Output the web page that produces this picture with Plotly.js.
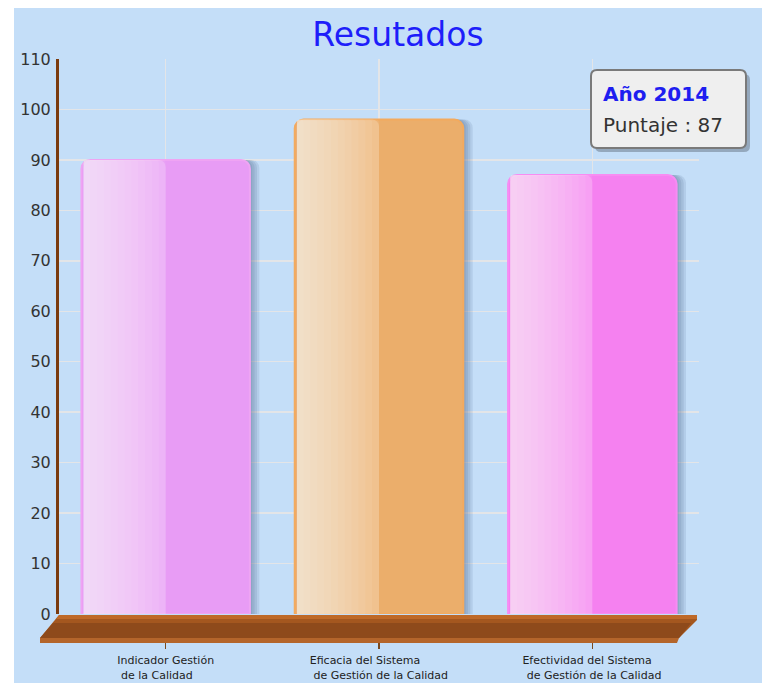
<!DOCTYPE html>
<html>
<head>
<meta charset="utf-8">
<script src="https://cdn.plot.ly/plotly-3.0.1.min.js"></script>
<style>
  html, body { margin: 0; padding: 0; background: #ffffff; }
  #chart { position: absolute; left: 14px; top: 8px; width: 748px; height: 675px; }
</style>
</head>
<body>
<div id="chart"></div>
<script>
// ---- data ----
const categories = ['Indicador Gestión de la Calidad',
                    'Eficacia del Sistema de Gestión de la Calidad',
                    'Efectividad del Sistema de Gestión de la Calidad'];
const labelLine1 = ['Indicador Gestión', 'Eficacia del Sistema', 'Efectividad del Sistema'];
const labelLine2 = ['de la Calidad', 'de Gestión de la Calidad', 'de Gestión de la Calidad'];
const values = [90, 98, 87];
const yTicks = [0, 10, 20, 30, 40, 50, 60, 70, 80, 90, 100, 110];
const chartTitle = 'Resutados';
const tipTitle = 'Año 2014';
const tipLabel = 'Puntaje';
const tipIndex = 2;

// ---- styles ----
const barColors = ['#E89CF5', '#EBAE6B', '#F581F0'];
const barBorders = ['#EFA4F3', '#F3AA5E', '#F78CF2'];
const BW = 0.79;
const FONT = '"DejaVu Sans", Verdana, sans-serif';

// tick labels: left-aligned two-line blocks (pad shorter line with nbsp)
const ctx = document.createElement('canvas').getContext('2d');
ctx.font = '11px "DejaVu Sans"';
const NB = '\u00A0';
function padTo(s, w) { while (ctx.measureText(s).width < w - 1) s += NB; return s; }
const tickText = categories.map((c, i) => {
  let a = labelLine1[i], b = NB + labelLine2[i];
  const wa = ctx.measureText(a).width, wb = ctx.measureText(b).width;
  if (wa < wb) a = padTo(a, wb); else b = padTo(b, wa);
  return a + '<br>' + b;
});

const traces = [];
// shadows (behind)
for (let k = 1; k <= 4; k++) {
  traces.push({
    type: 'bar', x: categories, y: values,
    width: categories.map(() => BW + k * 0.011),
    offset: categories.map(() => -BW / 2),
    marker: { color: 'rgba(70,95,130,0.13)', cornerradius: 8, line: { width: 0 } },
    hoverinfo: 'skip', showlegend: false
  });
}
// main bars
traces.push({
  type: 'bar', x: categories, y: values,
  width: categories.map(() => BW),
  offset: categories.map(() => -BW / 2),
  marker: { color: barColors, cornerradius: 9, line: { color: barBorders, width: 2 } },
  hoverinfo: 'skip', showlegend: false
});
// left-half gloss: base layer + nested strips for a smooth gradient
const inset = 0.01;
const half = BW / 2 - inset;
traces.push({
  type: 'bar', x: categories, y: values,
  width: categories.map(() => half),
  offset: categories.map(() => -BW / 2 + inset),
  marker: { color: 'rgba(255,255,255,0.2)', cornerradius: 7, line: { width: 0 } },
  hoverinfo: 'skip', showlegend: false
});
const N = 12;
for (let k = 1; k <= N; k++) {
  traces.push({
    type: 'bar', x: categories, y: values,
    width: categories.map(() => half * k / N),
    offset: categories.map(() => -BW / 2 + inset),
    marker: { color: 'rgba(255,255,255,0.067)', cornerradius: 3, line: { width: 0 } },
    hoverinfo: 'skip', showlegend: false
  });
}

// floor (paper coords; plot area 640 x 555 px)
const px = X => (X / 640), py = Y => (-Y / 555);
const floorTop = `M ${px(0)},${py(1)} L ${px(638)},${py(1)} L ${px(638)},${py(6)} L ${px(620)},${py(24)} L ${px(-19)},${py(24)} Z`;
const floorMid = `M ${px(-6)},${py(9)} L ${px(632)},${py(9)} L ${px(620)},${py(24)} L ${px(-19)},${py(24)} Z`;
const floorFront = `M ${px(-19)},${py(24)} L ${px(620)},${py(24)} L ${px(618)},${py(29)} L ${px(-19)},${py(29)} Z`;
const floorHi = `M ${px(0)},${py(1)} L ${px(638)},${py(1)} L ${px(638)},${py(5)} L ${px(-3)},${py(5)} Z`;

// tooltip box (page 591..746, 70..148) -> paper
const bx0 = (591 - 59) / 640, bx1 = (746 - 59) / 640;
const by0 = (614 - 148) / 555, by1 = (614 - 70) / 555;
function rrect(x0, y0, x1, y1, r) {
  const rx = r / 640, ry = r / 555;
  return `M ${x0 + rx},${y0} L ${x1 - rx},${y0} Q ${x1},${y0} ${x1},${y0 + ry} L ${x1},${y1 - ry} Q ${x1},${y1} ${x1 - rx},${y1} L ${x0 + rx},${y1} Q ${x0},${y1} ${x0},${y1 - ry} L ${x0},${y0 + ry} Q ${x0},${y0} ${x0 + rx},${y0} Z`;
}
const sdx = 4 / 640, sdy = 4 / 555;

const layout = {
  width: 748, height: 675,
  margin: { l: 45, r: 63, t: 51, b: 69 },
  paper_bgcolor: '#C4DEF8',
  plot_bgcolor: '#C4DEF8',
  barmode: 'overlay',
  title: {
    text: chartTitle,
    font: { family: FONT, size: 33, color: '#1E1EFA' },
    x: 384 / 748, xanchor: 'center', xref: 'container',
    y: 1 - 26 / 675, yanchor: 'middle', yref: 'container'
  },
  xaxis: {
    type: 'category',
    range: [-0.5, 2.5],
    tickvals: categories, ticktext: tickText,
    showgrid: true, gridcolor: '#E3E5E8', gridwidth: 1.5,
    showline: false, zeroline: false,
    ticks: 'outside', ticklen: 34, tickwidth: 1.5, tickcolor: '#7A4A20',
    ticklabelstandoff: 2,
    tickfont: { family: FONT, size: 11, color: '#222222' },
    fixedrange: true
  },
  yaxis: {
    range: [0, 110],
    tickvals: yTicks,
    showgrid: true, gridcolor: '#E3E5E8', gridwidth: 1.5,
    zeroline: false,
    showline: true, linecolor: '#7A3A0E', linewidth: 3,
    ticks: '', ticklabelstandoff: 2,
    tickfont: { family: FONT, size: 16, color: '#333333' },
    fixedrange: true
  },
  shapes: [
    { type: 'path', xref: 'paper', yref: 'paper', path: floorTop, fillcolor: '#A4571F', line: { width: 0 }, layer: 'above' },
    { type: 'path', xref: 'paper', yref: 'paper', path: floorMid, fillcolor: '#8E4A1B', line: { width: 0 }, layer: 'above' },
    { type: 'path', xref: 'paper', yref: 'paper', path: floorHi, fillcolor: 'rgba(196,110,42,0.8)', line: { width: 0 }, layer: 'above' },
    { type: 'path', xref: 'paper', yref: 'paper', path: floorFront, fillcolor: '#B4652B', line: { width: 0 }, layer: 'above' },
    { type: 'path', xref: 'paper', yref: 'paper', path: rrect(bx0 + sdx, by0 - sdy, bx1 + sdx, by1 - sdy, 6), fillcolor: 'rgba(60,70,80,0.35)', line: { width: 0 }, layer: 'above' },
    { type: 'path', xref: 'paper', yref: 'paper', path: rrect(bx0, by0, bx1, by1, 6), fillcolor: '#EFEFEF', line: { color: '#7A7A7A', width: 2 }, layer: 'above' }
  ],
  annotations: [
    { xref: 'paper', yref: 'paper', x: (601 - 59) / 640, y: (614 - 94) / 555, xanchor: 'left', yanchor: 'middle',
      text: '<b>' + tipTitle + '</b>', showarrow: false,
      font: { family: FONT, size: 20, color: '#1E1EF0' } },
    { xref: 'paper', yref: 'paper', x: (601 - 59) / 640, y: (614 - 125) / 555, xanchor: 'left', yanchor: 'middle',
      text: tipLabel + ' : ' + values[tipIndex], showarrow: false,
      font: { family: FONT, size: 20, color: '#333333' } }
  ],
  showlegend: false
};

Plotly.newPlot('chart', traces, layout, { displayModeBar: false, staticPlot: true });
</script>
</body>
</html>
